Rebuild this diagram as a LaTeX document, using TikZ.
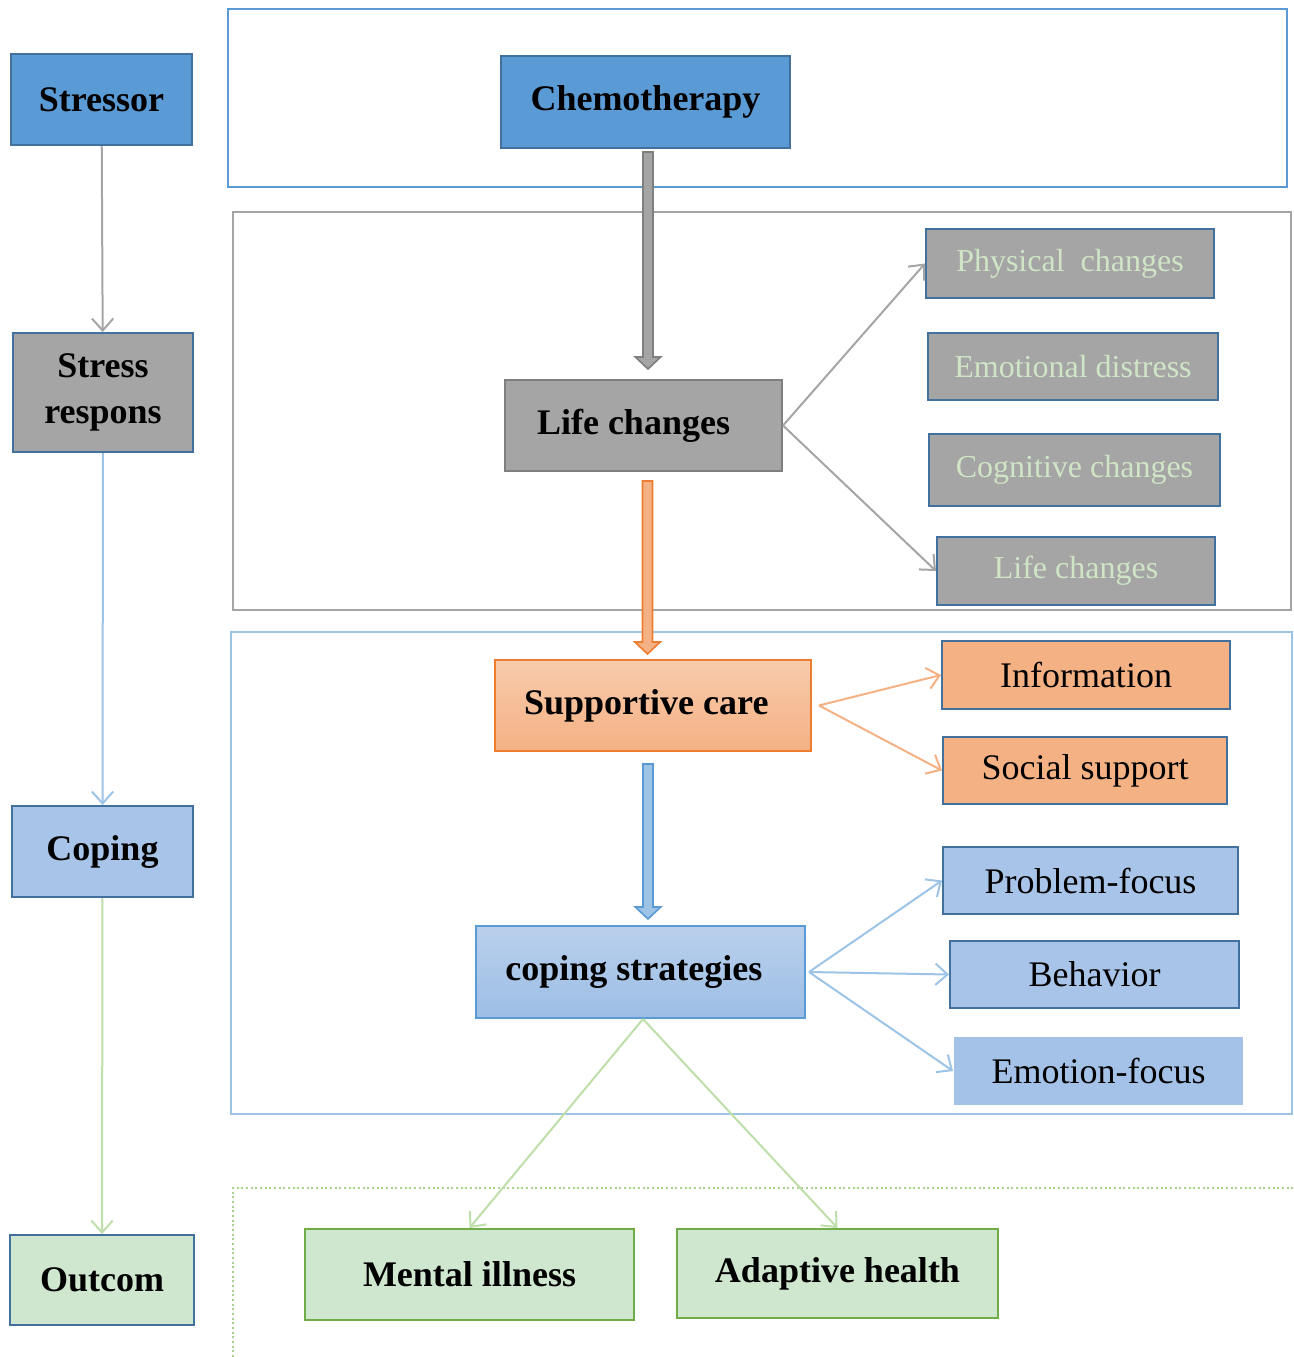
\documentclass[tikz,border=0pt]{standalone}
\usepackage{fontspec}
\setmainfont{Liberation Serif}
\usetikzlibrary{arrows.meta,calc}

\definecolor{blueA}{RGB}{91,155,213}
\definecolor{blueEdge}{RGB}{65,113,156}
\definecolor{blueLight}{RGB}{157,195,230}
\definecolor{blueFill}{RGB}{168,196,232}
\definecolor{greyA}{RGB}{165,165,165}
\definecolor{greyEdge}{RGB}{127,127,127}
\definecolor{paleText}{RGB}{208,229,198}
\definecolor{orangeFill}{RGB}{244,177,131}
\definecolor{orangeTop}{RGB}{248,203,173}
\definecolor{orangeEdge}{RGB}{237,125,49}
\definecolor{greenFill}{RGB}{207,230,207}
\definecolor{greenEdge}{RGB}{112,173,71}
\definecolor{greenLine}{RGB}{190,222,170}
\definecolor{greenDot}{RGB}{169,209,142}

\tikzset{every picture/.style={line width=0.75pt}}
\tikzset{
  mainbox/.style={draw=blueEdge, line width=1.5pt, inner sep=0pt, align=center,
    font=\fontsize{27}{34}\selectfont\bfseries},
  subbox/.style={draw=blueEdge, line width=1.5pt, inner sep=0pt,
    font=\fontsize{27}{31}\selectfont},
  greybox/.style={subbox, fill=greyA, text=paleText, font=\fontsize{24}{28}\selectfont},
  link/.style={line width=1.5pt, -{Straight Barb[length=9pt,width=16pt]}},
}

% block arrow: fill, edge, start, tip (vertical only)
\newcommand{\fatarrow}[4]{%
  \draw[draw=#2, fill=#1, line width=1.2pt] let \p1=(#3), \p2=(#4) in
    (\x1-3.75pt,\y1) -- (\x1+3.75pt,\y1) -- (\x1+3.75pt,\y2-9pt) -- (\x1+9.5pt,\y2-9pt)
    -- (\x1,\y2) -- (\x1-9.5pt,\y2-9pt) -- (\x1-3.75pt,\y2-9pt) -- cycle;}

\begin{document}
\begin{tikzpicture}[x=0.75pt,y=0.75pt,yscale=-1,xscale=1]
\useasboundingbox (0,0) rectangle (1293,1357);

%Shape: Rectangle [frames]
\draw [color=blueA, line width=1.5pt] (228,9) rectangle (1287,187);
\draw [color=greyA, line width=2pt] (233,212) rectangle (1291,610);
\draw [color=blueLight, line width=1.5pt] (231,632) rectangle (1292,1114);
\draw [color=greenDot, line width=1.5pt, dotted] (233,1357) -- (233,1188) -- (1293,1188);

%Left column
\node [mainbox, fill=blueA, minimum width=135.75pt, minimum height=68.25pt] (stressor) at (101.5,99.5) {Stressor};
\node [mainbox, fill=greyA, minimum width=135pt, minimum height=89.25pt] (response) at (103,392.5) {\raisebox{-4pt}{Stress}\\\raisebox{-4pt}{respons}};
\node [mainbox, fill=blueFill, minimum width=135.75pt, minimum height=68.25pt] (coping) at (102.5,851.5) {Coping};
\node [mainbox, fill=greenFill, minimum width=138pt, minimum height=67.5pt] (outcome) at (102,1280) {Outcom};

%Main column
\node [mainbox, fill=blueA, minimum width=216.75pt, minimum height=69pt] (chemo) at (645.5,102) {Chemotherapy};
\node [mainbox, draw=greyEdge, fill=greyA, minimum width=207.75pt, minimum height=68.25pt] (life) at (643.5,425.5) {Life changes\hspace*{15pt}};
\node [mainbox, draw=orangeEdge, top color=orangeTop, bottom color=orangeFill, minimum width=237pt, minimum height=68.25pt] (support) at (653,705.5) {Supportive care\hspace*{10pt}};
\node [mainbox, draw=blueA, top color=blueFill!80!white, bottom color=blueFill!85!blueA, minimum width=246.75pt, minimum height=69pt] (strategies) at (640.5,972) {coping strategies\hspace*{10pt}};
\node [mainbox, draw=greenEdge, fill=greenFill, minimum width=246.75pt, minimum height=68.25pt] (mental) at (469.5,1274.5) {Mental illness};
\node [mainbox, draw=greenEdge, fill=greenFill, minimum width=240.75pt, minimum height=66.75pt] (adaptive) at (837.5,1273.5) {Adaptive health};

%Right column
\node [greybox, minimum width=216pt, minimum height=51.75pt] (physical) at (1070,263.5) {Physical\ \ changes};
\node [greybox, minimum width=217.5pt, minimum height=50.25pt] (emotional) at (1073,366.5) {Emotional distress};
\node [greybox, minimum width=218.25pt, minimum height=54pt] (cognitive) at (1074.5,470) {Cognitive changes};
\node [greybox, minimum width=208.5pt, minimum height=51pt] (lifechg) at (1076,571) {Life changes};
\node [subbox, fill=orangeFill, minimum width=216pt, minimum height=51pt] (info) at (1086,675) {Information};
\node [subbox, fill=orangeFill, minimum width=213pt, minimum height=50.25pt] (social) at (1085,770.5) {Social support};
\node [subbox, fill=blueFill, minimum width=221.25pt, minimum height=50.25pt] (problem) at (1090.5,880.5) {Problem-focus};
\node [subbox, fill=blueFill, minimum width=216.75pt, minimum height=50.25pt] (behavior) at (1094.5,974.5) {Behavior};
\node [subbox, draw=none, fill=blueFill!95!blueA, minimum width=216.75pt, minimum height=51pt] (emotion) at (1098.5,1071) {Emotion-focus};

%Connectors
\draw [link, greyA] (stressor) -- (response);
\draw [link, blueLight] (response) -- (coping);
\draw [link, greenLine] (coping) -- (outcome);
\draw [link, greyA] (life.east) -- (physical.west);
\draw [link, greyA] (life.east) -- (lifechg.west);
\draw [link, orangeFill] ($(support.east)+(7,0)$) -- (info.west);
\draw [link, orangeFill] ($(support.east)+(7,0)$) -- (social.west);
\draw [link, blueLight] ($(strategies.east)+(3,0)$) -- (problem.west);
\draw [link, blueLight] ($(strategies.east)+(3,0)$) -- (behavior.west);
\draw [link, blueLight] ($(strategies.east)+(3,0)$) -- (emotion.west);
\draw [link, greenLine] ($(strategies.south)+(2.5,0)$) -- (mental.north);
\draw [link, greenLine] ($(strategies.south)+(2.5,0)$) -- (adaptive.north);

%Block arrows
\fatarrow{greyA}{greyEdge}{$(chemo.south)+(2.5,3)$}{$(life.north)+(4.5,-10)$}
\fatarrow{orangeFill}{orangeEdge}{$(life.south)+(4,9)$}{$(support.north)+(-5.5,-5)$}
\fatarrow{blueLight}{blueA}{$(support.south)+(-5,12)$}{$(strategies.north)+(7.5,-6)$}

\end{tikzpicture}
\end{document}
